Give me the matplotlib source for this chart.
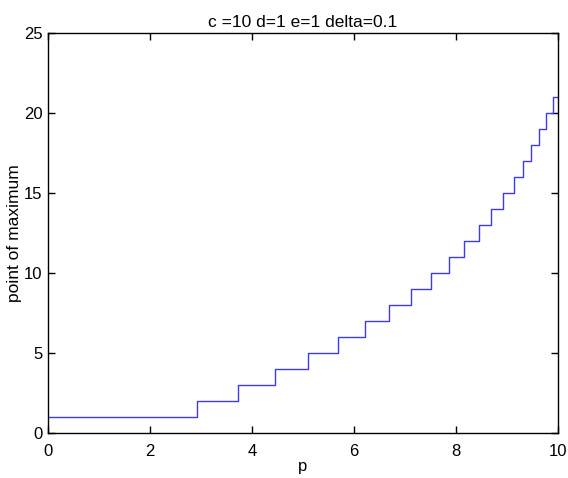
import matplotlib.pyplot as plt
import numpy as np

# step edges in p, and the level held on each interval
p_edges = [0, 2.92, 3.72, 4.45, 5.10, 5.69, 6.22, 6.69, 7.13, 7.51, 7.86,
           8.16, 8.46, 8.69, 8.93, 9.14, 9.32, 9.48, 9.63, 9.77, 9.91, 10]
levels = list(range(1, 22))

plt.rcParams['font.family'] = ['Liberation Sans', 'DejaVu Sans']

fig = plt.figure(figsize=(5.68, 4.78), dpi=100)
ax = fig.add_axes([0.0845, 0.094, 0.8975, 0.838])

x = np.array(p_edges)
y = np.array(levels + [levels[-1]])
ax.step(x, y, where='post', color='#3b3bf0', linewidth=1.0)

ax.set_xlim(0, 10)
ax.set_ylim(0, 25)
ax.set_xticks(range(0, 11, 2))
ax.set_yticks(range(0, 26, 5))
ax.tick_params(direction='in', top=True, right=True, labelsize=12, length=5, width=1)
ax.tick_params(axis='x', pad=8)
ax.tick_params(axis='y', pad=4)
for s in ax.spines.values():
    s.set_linewidth(1.0)

ax.set_title('c =10 d=1 e=1 delta=0.1', fontsize=12.5, pad=4)
ax.set_xlabel('p', fontsize=12, labelpad=0)
ax.set_ylabel('point of maximum', fontsize=12.5, labelpad=1)

fig.savefig('out.png', dpi=100)
